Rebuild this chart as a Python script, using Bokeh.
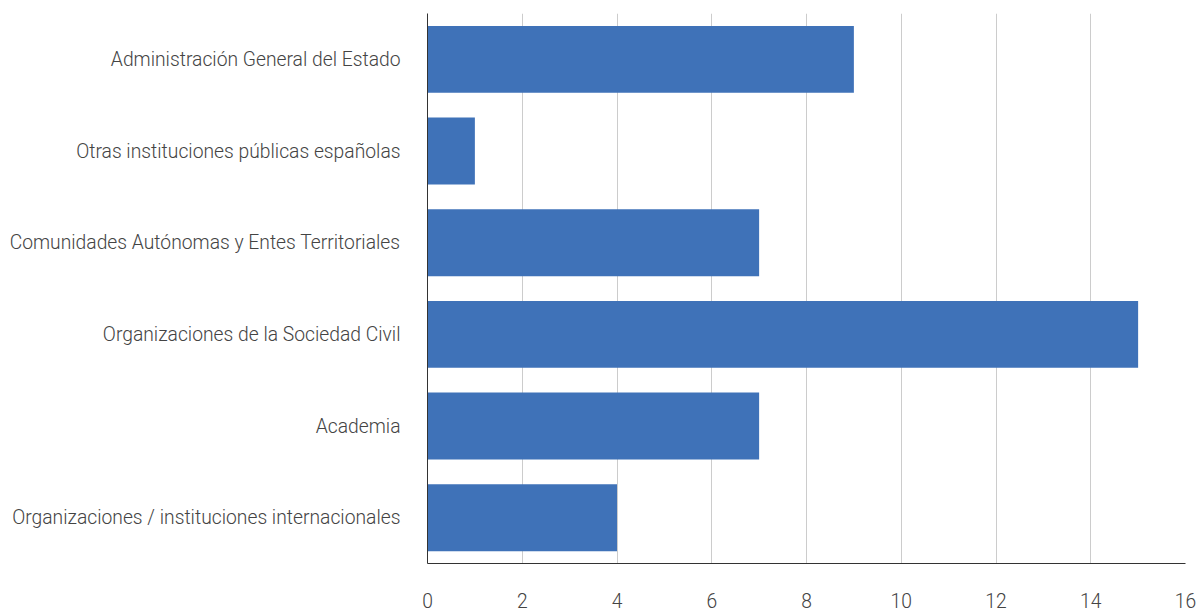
from bokeh.plotting import figure
from bokeh.models import Range1d, FactorRange, FixedTicker
from bokeh.embed import file_html
from bokeh.resources import INLINE

categories = [
    "Administración General del Estado",
    "Otras instituciones públicas españolas",
    "Comunidades Autónomas y Entes Territoriales",
    "Organizaciones de la Sociedad Civil",
    "Academia",
    "Organizaciones / instituciones internacionales",
]
values = [9, 1, 7, 15, 7, 4]
x_ticks = [0, 2, 4, 6, 8, 10, 12, 14, 16]

FONT = "'Roboto Light', Roboto, sans-serif"

p = figure(
    width=1202, height=612,
    y_range=FactorRange(factors=list(reversed(categories))),
    x_range=Range1d(0, 16),
    output_backend="svg", toolbar_location=None,
    min_border_left=427, min_border_right=17, min_border_top=13, min_border_bottom=49,
)
p.outline_line_color = None
p.hbar(y=categories, right=values, left=0, height=0.73, color="#3f72b8", line_color=None)

p.ygrid.grid_line_color = None
p.xgrid.grid_line_color = "#cccccc"
p.xgrid.grid_line_width = 1
p.xaxis.ticker = FixedTicker(ticks=x_ticks)

for ax in (p.xaxis[0], p.yaxis[0]):
    ax.axis_line_color = "#333333"
    ax.major_tick_line_color = None
    ax.minor_tick_line_color = None
    ax.major_label_text_font = FONT
    ax.major_label_text_color = "#444444"

p.yaxis.major_label_text_font_size = "19.3px"
p.xaxis.major_label_text_font_size = "19.3px"
p.yaxis.major_label_standoff = 21
p.xaxis.major_label_standoff = 23

open("out.html", "w").write(file_html(p, INLINE))
